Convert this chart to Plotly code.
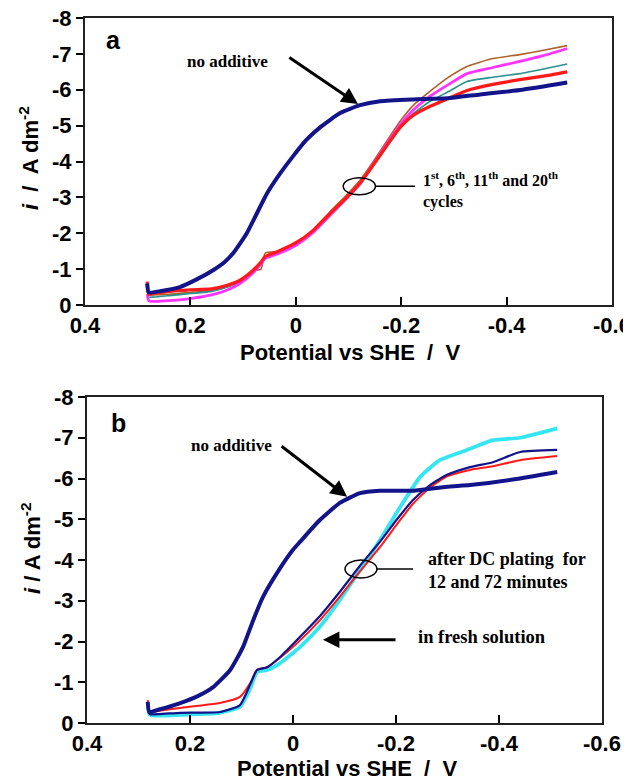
import plotly.graph_objects as go

# ---------------- Panel a data ----------------
E_a_noadd = [0.282, 0.279, 0.26, 0.22, 0.19, 0.157, 0.135, 0.119, 0.093, 0.074, 0.055, 0.03,
             0.005, -0.02, -0.046, -0.084, -0.122, -0.16, -0.222, -0.287, -0.35, -0.43, -0.515]
i_a_noadd = [-0.6, -0.35, -0.38, -0.5, -0.7, -0.97, -1.2, -1.44, -2.0, -2.55, -3.1, -3.66,
             -4.15, -4.6, -4.95, -5.35, -5.57, -5.68, -5.73, -5.76, -5.87, -6.0, -6.2]

E_a_cyc = [0.282, 0.279, 0.27, 0.24, 0.2, 0.16, 0.13, 0.106, 0.081, 0.066, 0.058, 0.03, -0.002,
           -0.033, -0.065, -0.097, -0.122, -0.147, -0.173, -0.198, -0.222, -0.255, -0.29, -0.325,
           -0.374, -0.425, -0.47, -0.515]
i_a_red = [-0.65, -0.3, -0.32, -0.38, -0.42, -0.45, -0.55, -0.69, -0.97, -1.2, -1.35, -1.52, -1.75,
           -2.08, -2.55, -3.0, -3.4, -3.9, -4.45, -4.95, -5.28, -5.54, -5.76, -5.98,
           -6.15, -6.28, -6.38, -6.5]
i_a_brown = [-0.45, -0.28, -0.28, -0.3, -0.35, -0.4, -0.5, -0.65, -0.95, -1.0, -1.45, -1.5, -1.72,
             -2.1, -2.6, -3.08, -3.48, -4.0, -4.58, -5.12, -5.55, -5.96, -6.35, -6.65,
             -6.87, -6.98, -7.1, -7.23]
i_a_magenta = [-0.3, -0.12, -0.1, -0.12, -0.18, -0.28, -0.42, -0.6, -0.9, -1.15, -1.3, -1.45, -1.68,
               -2.02, -2.5, -2.98, -3.38, -3.92, -4.5, -5.02, -5.42, -5.82, -6.15, -6.45,
               -6.62, -6.79, -6.95, -7.15]
i_a_teal = [-0.4, -0.22, -0.22, -0.26, -0.32, -0.38, -0.5, -0.65, -0.95, -1.18, -1.32, -1.5, -1.72,
            -2.05, -2.52, -2.98, -3.36, -3.88, -4.42, -4.92, -5.32, -5.68, -5.95, -6.23,
            -6.35, -6.45, -6.58, -6.72]

# ---------------- Panel b data ----------------
E_b_noadd = [0.282, 0.279, 0.26, 0.219, 0.185, 0.155, 0.122, 0.097, 0.078, 0.058, 0.025, 0.0,
             -0.014, -0.052, -0.091, -0.13, -0.169, -0.233, -0.299, -0.344, -0.43, -0.513]
i_b_noadd = [-0.52, -0.27, -0.33, -0.49, -0.66, -0.88, -1.3, -1.87, -2.5, -3.1, -3.8, -4.25,
             -4.45, -4.98, -5.4, -5.64, -5.7, -5.7, -5.8, -5.84, -5.98, -6.16]

E_b_dc = [0.282, 0.278, 0.26, 0.219, 0.142, 0.103, 0.083, 0.07, 0.05, 0.025, -0.008, -0.052,
          -0.091, -0.13, -0.169, -0.202, -0.233, -0.266, -0.299, -0.344, -0.388, -0.441, -0.513]
i_b_12min = [-0.56, -0.27, -0.3, -0.37, -0.49, -0.64, -0.98, -1.3, -1.37, -1.6, -1.96, -2.52,
             -3.1, -3.72, -4.32, -4.88, -5.38, -5.78, -6.05, -6.21, -6.3, -6.45, -6.55]
i_b_72min = [-0.45, -0.22, -0.22, -0.25, -0.27, -0.44, -0.95, -1.3, -1.37, -1.62, -2.04, -2.62,
             -3.22, -3.86, -4.45, -5.0, -5.47, -5.84, -6.09, -6.28, -6.4, -6.65, -6.7]

E_b_fresh = [0.282, 0.278, 0.26, 0.219, 0.142, 0.103, 0.083, 0.07, 0.05, 0.025, -0.014, -0.052,
             -0.091, -0.13, -0.169, -0.208, -0.247, -0.285, -0.338, -0.388, -0.441, -0.513]
i_b_fresh = [-0.4, -0.2, -0.18, -0.2, -0.25, -0.4, -0.85, -1.25, -1.3, -1.47, -1.87, -2.36,
             -3.02, -3.75, -4.49, -5.3, -6.04, -6.45, -6.7, -6.94, -7.0, -7.23]

x_ticks = [0.4, 0.2, 0, -0.2, -0.4, -0.6]
x_ticklabels = ["0.4", "0.2", "0", "-0.2", "-0.4", "-0.6"]
y_ticks = [0, -1, -2, -3, -4, -5, -6, -7, -8]
y_ticklabels = ["0", "-1", "-2", "-3", "-4", "-5", "-6", "-7", "-8"]

NAVY = "#14148a"
RED = "#ff1a1a"
MAGENTA = "#ff33ff"
BROWN = "#b0602a"
TEAL = "#2a9090"
CYAN = "#33e6f2"

SANS = "Arial, Liberation Sans, sans-serif"
SERIF = "Times New Roman, Liberation Serif, serif"

# the page adds an 8 px body margin; work in page pixels and convert
OFF = 8
W, H = 631 - OFF, 783 - OFF
def PX(x):
    return (x - OFF) / W
def PY(y):
    return 1 - (y - OFF) / H

fig = go.Figure()

def add(x, y, color, width, xa, ya, name):
    fig.add_trace(go.Scatter(x=x, y=y, mode="lines",
                             line=dict(color=color, width=width, shape="spline", smoothing=0.5),
                             xaxis=xa, yaxis=ya, name=name, showlegend=False))

# panel a
add(E_a_cyc, i_a_brown, BROWN, 1.6, "x", "y", "cycle (brown)")
add(E_a_cyc, i_a_teal, TEAL, 1.6, "x", "y", "cycle (teal)")
add(E_a_cyc, i_a_magenta, MAGENTA, 2.8, "x", "y", "cycle (magenta)")
add(E_a_cyc, i_a_red, RED, 3.2, "x", "y", "cycle (red)")
add(E_a_noadd, i_a_noadd, NAVY, 4, "x", "y", "no additive")

# panel b
add(E_b_fresh, i_b_fresh, CYAN, 3.8, "x2", "y2", "in fresh solution")
add(E_b_dc, i_b_12min, RED, 2.0, "x2", "y2", "12 minutes")
add(E_b_dc, i_b_72min, NAVY, 2.2, "x2", "y2", "72 minutes")
add(E_b_noadd, i_b_noadd, NAVY, 4, "x2", "y2", "no additive")

TICKFONT = dict(family=SANS, size=22, color="black", weight="bold")
xaxis_common = dict(range=[0.4, -0.6], tickvals=x_ticks, ticktext=x_ticklabels,
                    ticks="inside", ticklen=8, tickwidth=2, tickcolor="black",
                    showline=True, linecolor="#222", linewidth=2, mirror=True,
                    showgrid=False, zeroline=False, ticklabelstandoff=0,
                    ticklabeloverflow="allow",
                    automargin=False, tickfont=TICKFONT)
yaxis_common = dict(range=[0, -8], tickvals=y_ticks, ticktext=y_ticklabels,
                    ticks="outside", ticklen=7, tickwidth=2, tickcolor="black",
                    showline=True, linecolor="#222", linewidth=2, mirror=True,
                    showgrid=False, zeroline=False, ticklabelstandoff=0,
                    ticklabeloverflow="allow",
                    automargin=False, tickfont=TICKFONT)

fig.update_layout(
    width=W, height=H,
    margin=dict(l=0, r=0, t=0, b=0, autoexpand=False),
    paper_bgcolor="white", plot_bgcolor="white",
    xaxis=dict(domain=[PX(85), PX(612)], anchor="y", **xaxis_common),
    yaxis=dict(domain=[PY(305), PY(18)], anchor="x", **yaxis_common),
    xaxis2=dict(domain=[PX(87), PX(602)], anchor="y2", **xaxis_common),
    yaxis2=dict(domain=[PY(723), PY(397)], anchor="x2", **yaxis_common),
)

ann = []
def paper_text(x, y, text, size=22, family=SANS, angle=0, xanchor="center"):
    ann.append(dict(x=PX(x), y=PY(y), xref="paper", yref="paper", text=text, showarrow=False,
                    font=dict(family=family, size=size, color="black"), textangle=angle,
                    xanchor=xanchor, yanchor="middle"))

# axis titles
paper_text(350, 352, "<b>Potential vs SHE  /  V</b>")
paper_text(347, 768, "<b>Potential vs SHE  /  V</b>")
paper_text(29, 158, "<b><i>i</i>  /  A dm<sup>-2</sup></b>", angle=-90)
paper_text(31, 548, "<b><i>i</i> / A dm<sup>-2</sup></b>", angle=-90)
# panel letters
paper_text(113, 40, "<b>a</b>", size=25)
paper_text(118, 423, "<b>b</b>", size=25)

def data_text(x, y, xa, ya, text, xanchor="left", size=16):
    ann.append(dict(x=x, y=y, xref=xa, yref=ya, text=text, showarrow=False, align="left",
                    font=dict(family=SERIF, size=size, color="black"),
                    xanchor=xanchor, yanchor="middle"))

def arrow(x0, y0, x1, y1, xa, ya):
    ann.append(dict(x=x1, y=y1, xref=xa, yref=ya, ax=x0, ay=y0, axref=xa, ayref=ya,
                    text="", showarrow=True, arrowhead=2, arrowsize=1.1, arrowwidth=3,
                    arrowcolor="black"))

# panel a annotations
data_text(0.13, -6.8, "x", "y", "<b>no additive</b>", xanchor="center", size=17)
arrow(0.015, -6.93, -0.118, -5.6, "x", "y")
data_text(-0.238, -3.2, "x", "y",
          "<b>1<sup>st</sup>, 6<sup>th</sup>, 11<sup>th</sup> and 20<sup>th</sup><br>cycles</b>")

# panel b annotations
data_text(0.12, -6.8, "x2", "y2", "<b>no additive</b>", xanchor="center", size=17)
arrow(0.025, -6.82, -0.105, -5.55, "x2", "y2")
data_text(-0.258, -3.75, "x2", "y2", "<b>after DC plating  for<br>12 and 72 minutes</b>", size=18)
data_text(-0.238, -2.1, "x2", "y2", "<b>in fresh solution</b>", size=18.5)
arrow(-0.202, -2.04, -0.058, -2.04, "x2", "y2")

fig.update_layout(annotations=ann)

# ellipses and connecting lines
shapes = [
    dict(type="circle", xref="x", yref="y", x0=-0.09, x1=-0.151, y0=-3.07, y1=-3.55,
         line=dict(color="black", width=1.5)),
    dict(type="line", xref="x", yref="y", x0=-0.151, x1=-0.226, y0=-3.31, y1=-3.31,
         line=dict(color="black", width=1.5)),
    dict(type="circle", xref="x2", yref="y2", x0=-0.101, x1=-0.163, y0=-3.56, y1=-4.0,
         line=dict(color="black", width=1.5)),
    dict(type="line", xref="x2", yref="y2", x0=-0.163, x1=-0.233, y0=-3.78, y1=-3.78,
         line=dict(color="black", width=1.5)),
]
fig.update_layout(shapes=shapes)

fig.write_html("out.html")
